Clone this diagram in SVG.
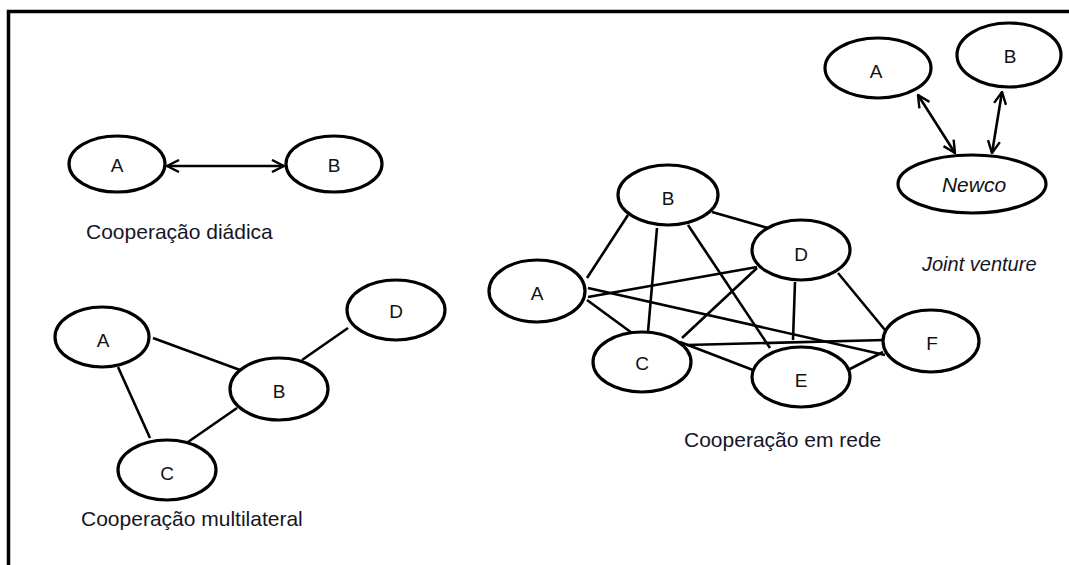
<svg xmlns="http://www.w3.org/2000/svg" width="1069" height="565" viewBox="0 0 1069 565">
<style>
.n ellipse{fill:#fff;stroke:#000;stroke-width:3.2}
.lbl{font-family:"Liberation Sans",Arial,sans-serif;font-size:19px;fill:#111;text-anchor:middle}
.cap{font-family:"Liberation Sans",Arial,sans-serif;font-size:21px;fill:#151525}
.it{font-style:italic}
#connectors line{stroke:#000;stroke-width:2.6;fill:none}
</style>
<defs>
<marker id="ah" viewBox="0 0 14 14" refX="13" refY="7" markerWidth="14" markerHeight="14" markerUnits="userSpaceOnUse" orient="auto-start-reverse">
<path d="M1,1 L13,7 L1,13" fill="none" stroke="#000" stroke-width="2.4"/>
</marker>
</defs>
<rect width="1069" height="565" fill="#fff"/>
<path d="M8.5,565 V11.5 H1069" fill="none" stroke="#000" stroke-width="3.5"/>

<g id="connectors">
<!-- diadica -->
<line x1="167" y1="166" x2="284" y2="166" marker-start="url(#ah)" marker-end="url(#ah)"/>
<!-- multilateral -->
<line x1="153" y1="338" x2="240" y2="370"/>
<line x1="118" y1="367" x2="150" y2="438"/>
<line x1="237" y1="408" x2="188" y2="442"/>
<line x1="302" y1="360" x2="348" y2="328"/>
<!-- rede -->
<line x1="587" y1="278" x2="628" y2="215"/>
<line x1="657" y1="228" x2="648" y2="332"/>
<line x1="688" y1="225" x2="770" y2="348"/>
<line x1="712" y1="212" x2="768" y2="228"/>
<line x1="588" y1="297" x2="757" y2="267"/>
<line x1="588" y1="288" x2="885" y2="355"/>
<line x1="587" y1="300" x2="632" y2="333"/>
<line x1="682" y1="338" x2="757" y2="268"/>
<line x1="795" y1="282" x2="793" y2="340"/>
<line x1="838" y1="273" x2="885" y2="330"/>
<line x1="687" y1="345" x2="885" y2="340"/>
<line x1="680" y1="342" x2="753" y2="370"/>
<line x1="848" y1="370" x2="883" y2="352"/>
<!-- joint venture -->
<line x1="918" y1="95" x2="955" y2="153" marker-start="url(#ah)" marker-end="url(#ah)"/>
<line x1="1002" y1="92" x2="992" y2="153" marker-start="url(#ah)" marker-end="url(#ah)"/>
</g>

<!-- Cooperação diádica -->
<g id="d-A" class="n"><ellipse cx="117" cy="164" rx="48" ry="28"/><text class="lbl" x="117" y="172">A</text></g>
<g id="d-B" class="n"><ellipse cx="334" cy="164" rx="48" ry="28"/><text class="lbl" x="334" y="172">B</text></g>
<text class="cap" x="86" y="239">Cooperação diádica</text>

<!-- Cooperação multilateral -->
<g id="m-A" class="n"><ellipse cx="102" cy="337" rx="47" ry="30"/><text class="lbl" x="103" y="347">A</text></g>
<g id="m-B" class="n"><ellipse cx="279" cy="389" rx="49" ry="31"/><text class="lbl" x="279" y="398">B</text></g>
<g id="m-C" class="n"><ellipse cx="167" cy="470" rx="49" ry="30"/><text class="lbl" x="167" y="480">C</text></g>
<g id="m-D" class="n"><ellipse cx="396" cy="310" rx="49" ry="30"/><text class="lbl" x="396" y="318">D</text></g>
<text class="cap" x="81" y="526">Cooperação multilateral</text>

<!-- Cooperação em rede -->
<g id="r-A" class="n"><ellipse cx="537" cy="291" rx="48" ry="31"/><text class="lbl" x="537" y="300">A</text></g>
<g id="r-B" class="n"><ellipse cx="668" cy="195" rx="50" ry="30"/><text class="lbl" x="668" y="205">B</text></g>
<g id="r-C" class="n"><ellipse cx="642" cy="362" rx="49" ry="30"/><text class="lbl" x="642" y="370">C</text></g>
<g id="r-D" class="n"><ellipse cx="801" cy="250" rx="49" ry="30"/><text class="lbl" x="801" y="261">D</text></g>
<g id="r-E" class="n"><ellipse cx="801" cy="377" rx="49" ry="30"/><text class="lbl" x="801" y="387">E</text></g>
<g id="r-F" class="n"><ellipse cx="931" cy="341" rx="48" ry="31"/><text class="lbl" x="932" y="350">F</text></g>
<text class="cap" x="684" y="447">Cooperação em rede</text>

<!-- Joint venture -->
<g id="j-A" class="n"><ellipse cx="878" cy="68" rx="53" ry="30"/><text class="lbl" x="876" y="78">A</text></g>
<g id="j-B" class="n"><ellipse cx="1009" cy="55" rx="52" ry="32"/><text class="lbl" x="1010" y="63">B</text></g>
<g id="j-Newco" class="n"><ellipse cx="972" cy="184" rx="74" ry="29"/><text class="lbl it" style="font-size:21px" x="974" y="192">Newco</text></g>
<text class="cap it" style="font-size:20px" x="922" y="271">Joint venture</text>
</svg>
